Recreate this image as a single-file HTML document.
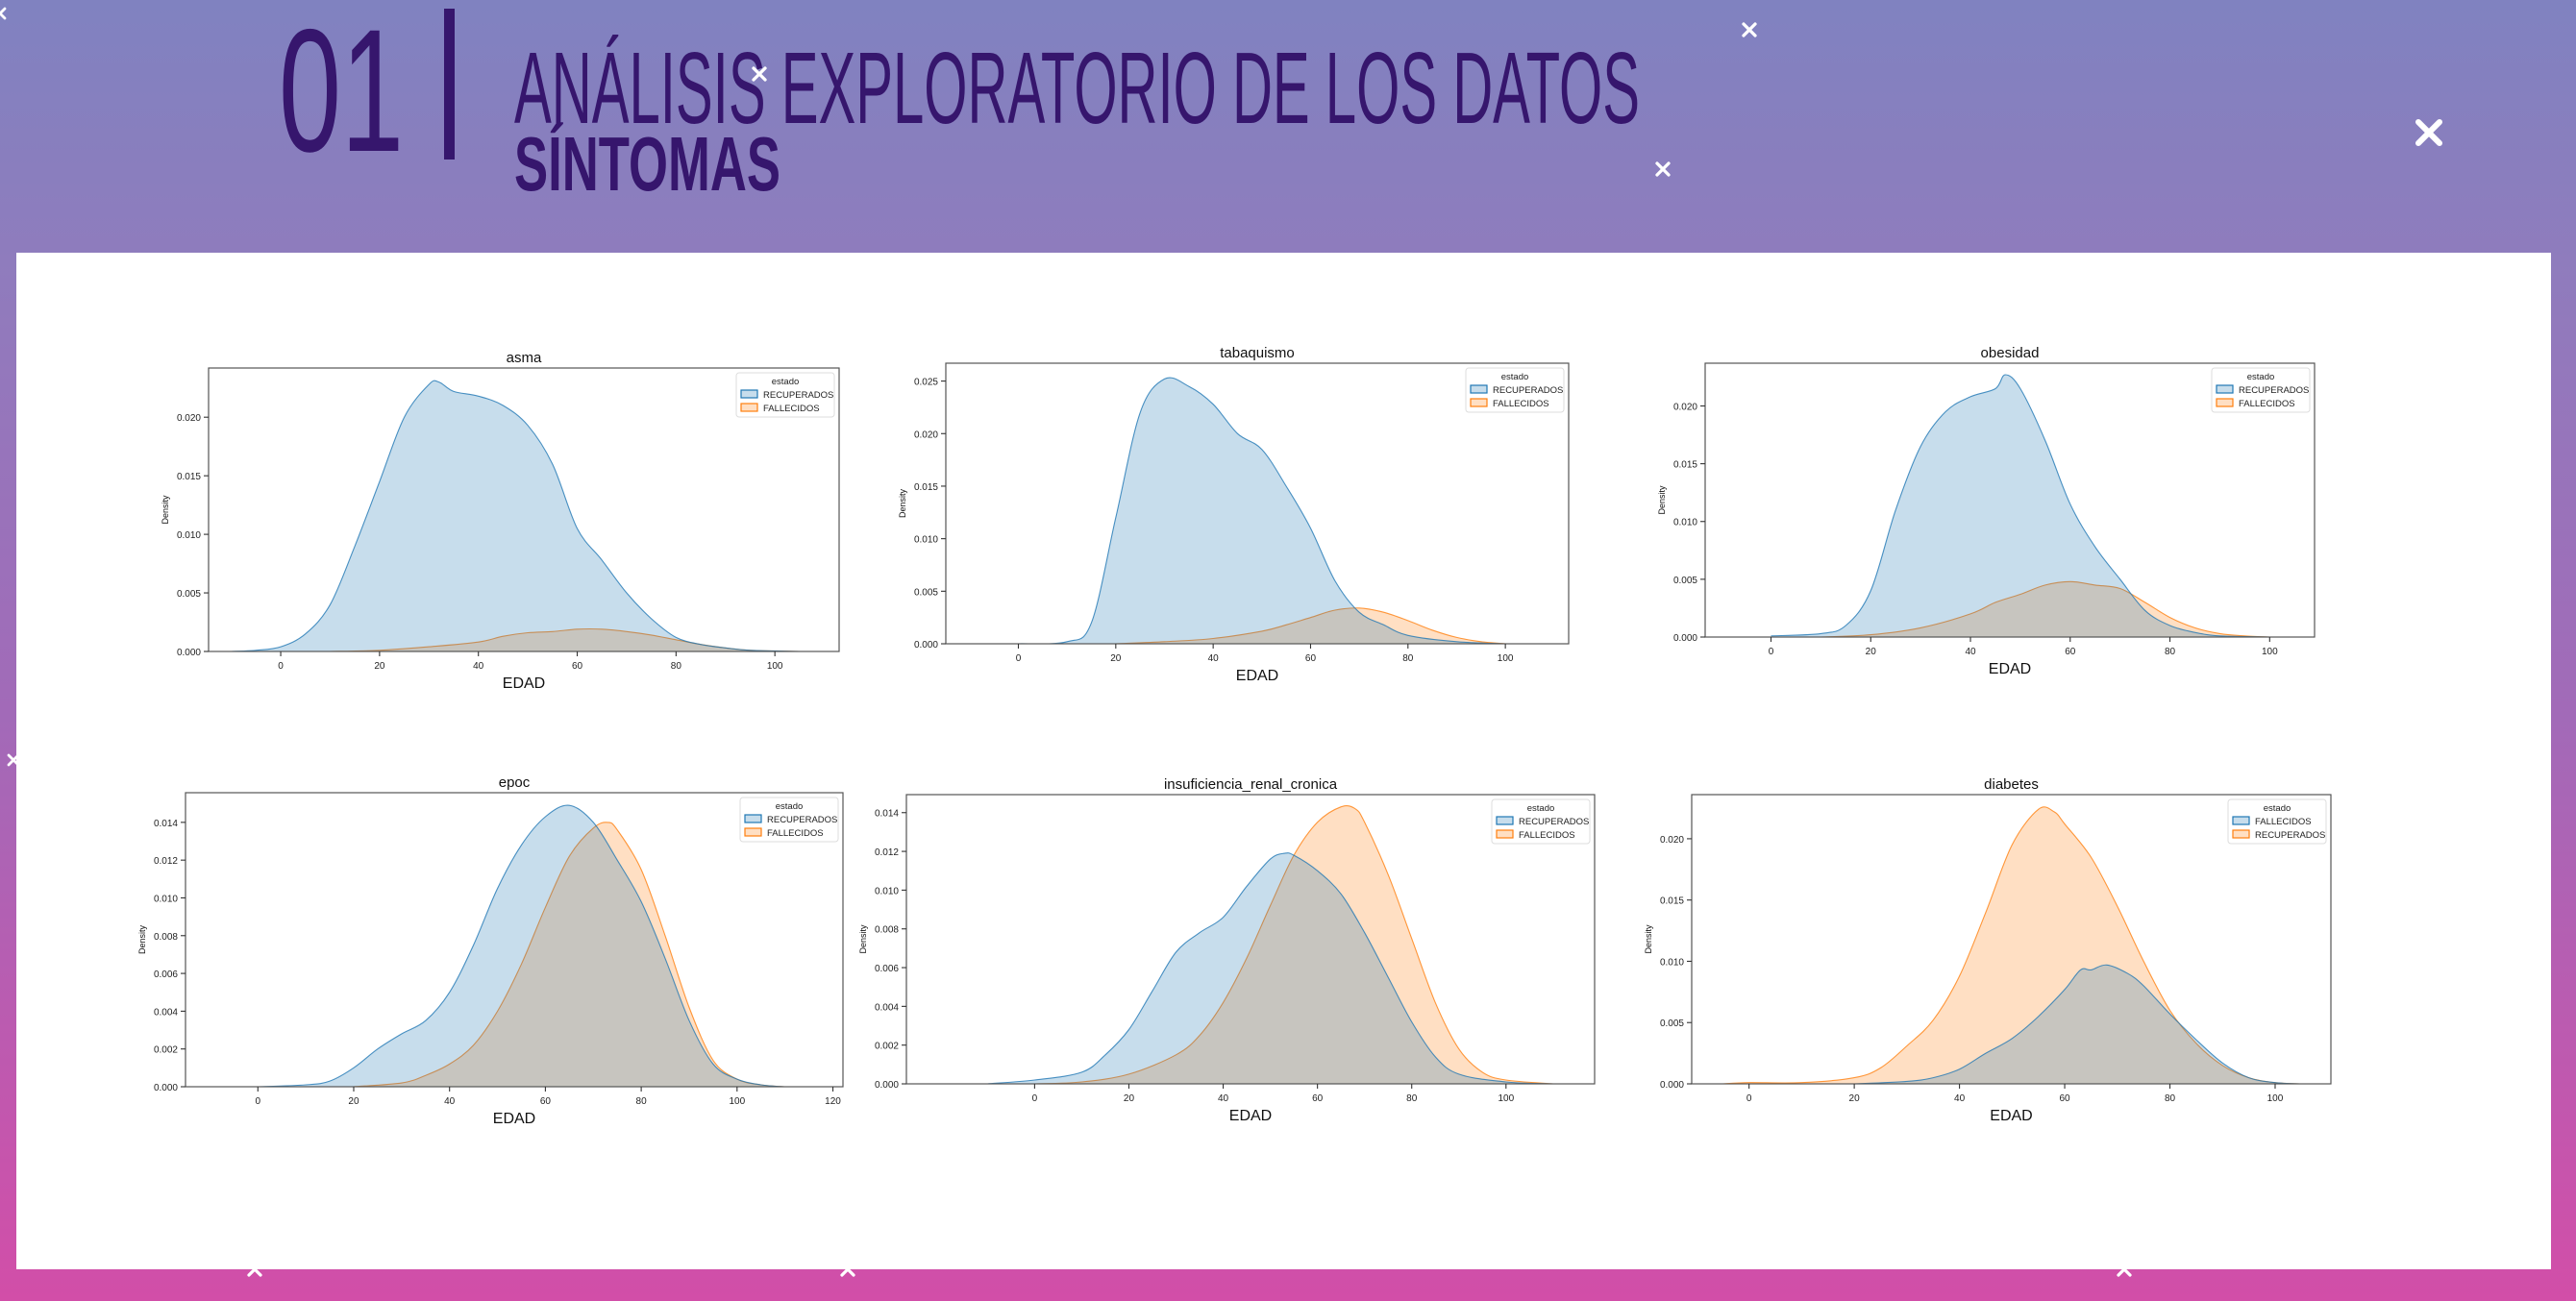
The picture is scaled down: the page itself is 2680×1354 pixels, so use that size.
<!DOCTYPE html>
<html><head><meta charset="utf-8">
<style>
html,body{margin:0;padding:0;width:2680px;height:1354px;overflow:hidden}
body{background:linear-gradient(180deg,#8082c0 0%,#8f7cbd 20%,#a26ab8 55%,#c257ae 85%,#d24ea8 100%);font-family:"Liberation Sans",sans-serif}
svg{position:absolute;left:0;top:0}
</style></head>
<body>
<svg id="root" width="2680" height="1354">
  <g fill="#36166d">
    <text x="290" y="157" font-family="Liberation Sans Narrow, Liberation Sans, sans-serif" font-size="182" textLength="130" lengthAdjust="spacingAndGlyphs">01</text>
    <rect x="462" y="9" width="11" height="157"/>
    <text x="535" y="128" font-family="Liberation Sans Narrow, Liberation Sans, sans-serif" font-size="106" textLength="1171" lengthAdjust="spacingAndGlyphs">ANÁLISIS EXPLORATORIO DE LOS DATOS</text>
    <text x="535" y="198" font-family="Liberation Sans Narrow, Liberation Sans, sans-serif" font-weight="bold" font-size="80" textLength="277" lengthAdjust="spacingAndGlyphs">SÍNTOMAS</text>
  </g>
  <g id="stars"></g>
  <rect x="17" y="263" width="2637" height="1058" fill="#ffffff"/>
  <g id="charts"></g>
</svg>
<script>
// ---- data (x = EDAD, y = density) ----
const asmaRecX=[-10,-5,0,5,10,15,20,25,30,32,35,40,45,50,55,60,65,70,75,80,85,90,95,100,105];
const asmaRecY=[0,0.0001,0.0004,0.0015,0.004,0.009,0.0145,0.020,0.0228,0.0230,0.0222,0.0218,0.0210,0.0193,0.0160,0.0105,0.0078,0.005,0.0028,0.0012,0.0006,0.0003,0.0001,0.00005,0];
const asmaFalX=[10,20,30,40,45,50,55,60,65,70,75,80,85,90,95,105];
const asmaFalY=[0,0.0001,0.0004,0.0008,0.0013,0.0016,0.0017,0.0019,0.0019,0.0017,0.0014,0.001,0.0006,0.0003,0.0001,0];

const tabRecX=[0,10,15,20,25,30,35,40,45,50,55,60,65,70,75,80,90,100];
const tabRecY=[0,0.0002,0.002,0.012,0.022,0.0252,0.0245,0.0228,0.020,0.0185,0.015,0.011,0.006,0.003,0.0018,0.0008,0.0002,0];
const tabFalX=[20,30,40,50,55,60,65,70,75,80,85,90,95,100];
const tabFalY=[0,0.0002,0.0005,0.0012,0.0018,0.0025,0.0032,0.0034,0.0030,0.0022,0.0013,0.0006,0.0002,0];

const obeRecX=[0,10,15,20,25,30,35,40,45,47,50,55,60,65,70,75,80,85,90,100];
const obeRecY=[0.0001,0.0003,0.001,0.004,0.011,0.0165,0.0195,0.0208,0.0215,0.0227,0.0215,0.017,0.0115,0.0078,0.005,0.0023,0.001,0.0004,0.0001,0];
const obeFalX=[10,20,30,40,45,50,55,60,65,70,75,80,85,90,95,100];
const obeFalY=[0,0.0002,0.0008,0.002,0.003,0.0037,0.0045,0.0048,0.0045,0.0042,0.003,0.0017,0.0008,0.0003,0.0001,0];

const epocRecX=[0,10,15,20,25,30,35,40,45,50,55,60,65,70,75,80,85,90,95,100,105,110];
const epocRecY=[0,0.0001,0.0003,0.001,0.002,0.0028,0.0035,0.005,0.0075,0.0105,0.0128,0.0143,0.0149,0.0140,0.0120,0.0098,0.0068,0.0035,0.0012,0.0004,0.0001,0];
const epocFalX=[20,30,35,40,45,50,55,60,65,70,73,75,80,85,90,95,100,105,110];
const epocFalY=[0,0.0002,0.0006,0.0012,0.0022,0.004,0.0065,0.0095,0.0122,0.0137,0.0140,0.0136,0.0115,0.0080,0.0042,0.0014,0.0004,0.0001,0];

const renRecX=[-10,0,10,15,20,25,30,35,40,45,50,53,55,60,65,70,75,80,85,90,100,110];
const renRecY=[0,0.0002,0.0006,0.0015,0.0028,0.0048,0.0068,0.0078,0.0086,0.0102,0.0116,0.0119,0.0118,0.011,0.0098,0.0078,0.0055,0.0032,0.0014,0.0005,0.0001,0];
const renFalX=[0,10,20,30,35,40,45,50,55,60,65,68,70,75,80,85,90,95,100,110];
const renFalY=[0,0.0001,0.0005,0.0015,0.0025,0.0042,0.0065,0.0092,0.0118,0.0135,0.0143,0.0142,0.0135,0.0108,0.0075,0.0042,0.0018,0.0006,0.0002,0];

const diaRecX=[-5,0,10,20,25,30,35,40,45,50,55,58,60,65,70,75,80,85,90,95,100,105];
const diaRecY=[0,0.0001,0.0001,0.0005,0.0013,0.0031,0.0052,0.0088,0.0140,0.0195,0.0224,0.0222,0.0212,0.0185,0.0145,0.0100,0.0060,0.0033,0.0015,0.0005,0.0001,0];
const diaFalX=[20,30,35,40,45,50,55,60,63,65,68,72,75,80,85,90,95,100,105];
const diaFalY=[0,0.0002,0.0005,0.0012,0.0025,0.0037,0.0055,0.0077,0.0093,0.0093,0.0097,0.0090,0.0080,0.0057,0.0036,0.0017,0.0005,0.0001,0];

const yTicks1=[0,0.005,0.010,0.015,0.020];
const yTicks2=[0,0.005,0.010,0.015,0.020,0.025];
const yTicks3=[0,0.002,0.004,0.006,0.008,0.010,0.012,0.014];
const xTicks100=[0,20,40,60,80,100];
const xTicks120=[0,20,40,60,80,100,120];

const charts=[
 {name:'asma',box:[217,383,873,678],xd:[-14.6,113],yd:[0,0.0242],yt:yTicks1,yf:3,xt:xTicks100,
  series:[{label:'RECUPERADOS',c:'#1f77b4',x:asmaRecX,y:asmaRecY},{label:'FALLECIDOS',c:'#ff7f0e',x:asmaFalX,y:asmaFalY}]},
 {name:'tabaquismo',box:[984,378,1632,670],xd:[-14.9,113],yd:[0,0.0267],yt:yTicks2,yf:3,xt:xTicks100,
  series:[{label:'RECUPERADOS',c:'#1f77b4',x:tabRecX,y:tabRecY},{label:'FALLECIDOS',c:'#ff7f0e',x:tabFalX,y:tabFalY}]},
 {name:'obesidad',box:[1774,378,2408,663],xd:[-13.2,109],yd:[0,0.0237],yt:yTicks1,yf:3,xt:xTicks100,
  series:[{label:'RECUPERADOS',c:'#1f77b4',x:obeRecX,y:obeRecY},{label:'FALLECIDOS',c:'#ff7f0e',x:obeFalX,y:obeFalY}]},
 {name:'epoc',box:[193,825,877,1131],xd:[-15.1,122.1],yd:[0,0.01557],yt:yTicks3,yf:3,xt:xTicks120,
  series:[{label:'RECUPERADOS',c:'#1f77b4',x:epocRecX,y:epocRecY},{label:'FALLECIDOS',c:'#ff7f0e',x:epocFalX,y:epocFalY}]},
 {name:'insuficiencia_renal_cronica',box:[943,827,1659,1128],xd:[-27.2,118.8],yd:[0,0.01493],yt:yTicks3,yf:3,xt:xTicks100,
  series:[{label:'RECUPERADOS',c:'#1f77b4',x:renRecX,y:renRecY},{label:'FALLECIDOS',c:'#ff7f0e',x:renFalX,y:renFalY}]},
 {name:'diabetes',box:[1760,827,2425,1128],xd:[-10.9,110.6],yd:[0,0.0236],yt:yTicks1,yf:3,xt:xTicks100,
  series:[{label:'FALLECIDOS',c:'#1f77b4',x:diaFalX,y:diaFalY},{label:'RECUPERADOS',c:'#ff7f0e',x:diaRecX,y:diaRecY}]}
];

const NS='http://www.w3.org/2000/svg';
function mk(tag,attrs,parent){const e=document.createElementNS(NS,tag);for(const k in attrs)e.setAttribute(k,attrs[k]);if(parent)parent.appendChild(e);return e;}
function smooth(pts){
  let d='M'+pts[0][0].toFixed(1)+','+pts[0][1].toFixed(1);
  for(let i=0;i<pts.length-1;i++){
    const p0=pts[i-1]||pts[i],p1=pts[i],p2=pts[i+1],p3=pts[i+2]||p2;
    const c1=[p1[0]+(p2[0]-p0[0])/6,p1[1]+(p2[1]-p0[1])/6];
    const c2=[p2[0]-(p3[0]-p1[0])/6,p2[1]-(p3[1]-p1[1])/6];
    d+='C'+c1[0].toFixed(1)+','+c1[1].toFixed(1)+' '+c2[0].toFixed(1)+','+c2[1].toFixed(1)+' '+p2[0].toFixed(1)+','+p2[1].toFixed(1);
  }
  return d;
}
const root=document.getElementById('charts');
charts.forEach(ch=>{
  const [L,T,R,B]=ch.box;
  const sx=v=>L+(v-ch.xd[0])/(ch.xd[1]-ch.xd[0])*(R-L);
  const sy=v=>B-(v-ch.yd[0])/(ch.yd[1]-ch.yd[0])*(B-T);
  const g=mk('g',{},root);
  
  
  const clipId='clip-'+ch.name;
  const cp=mk('clipPath',{id:clipId},g);mk('rect',{x:L,y:T,width:R-L,height:B-T},cp);
  const plot=mk('g',{'clip-path':'url(#'+clipId+')'},g);
  // draw orange first, blue on top (gives grey overlap like reference)
  const order=ch.series.slice().sort((a,b)=>(a.c==='#ff7f0e'?0:1)-(b.c==='#ff7f0e'?0:1));
  order.forEach(s=>{
    const pts=s.x.map((xv,i)=>[sx(xv),sy(s.y[i])]);
    const line=smooth(pts);
    const area=mk('path',{d:line+'L'+pts[pts.length-1][0].toFixed(1)+','+B+'L'+pts[0][0].toFixed(1)+','+B+'Z',fill:s.c,'fill-opacity':0.25,stroke:'none'},plot);
    
    
    const ln=mk('path',{d:line,fill:'none',stroke:s.c,'stroke-width':1.1,'stroke-opacity':0.8},plot);
    
    
  });
  const frame=mk('rect',{x:L,y:T,width:R-L,height:B-T,fill:'none',stroke:'#555','stroke-width':1.2},g);
  
  
  ch.xt.forEach(t=>{
    mk('line',{x1:sx(t),x2:sx(t),y1:B,y2:B+5,stroke:'#333','stroke-width':1.1},g);
    const tx=mk('text',{x:sx(t),y:B+18,'font-size':10,'text-anchor':'middle',fill:'#222'},g);
    tx.textContent=t;
    
    
  });
  ch.yt.forEach(t=>{
    mk('line',{x1:L-5,x2:L,y1:sy(t),y2:sy(t),stroke:'#333','stroke-width':1.1},g);
    const tx=mk('text',{x:L-8,y:sy(t)+4,'font-size':10,'text-anchor':'end',fill:'#222'},g);
    tx.textContent=t.toFixed(ch.yf);
    
    
  });
  const title=mk('text',{x:(L+R)/2,y:T-6,'font-size':15,'text-anchor':'middle',fill:'#111'},g);
  title.textContent=ch.name;
  
  
  const xl=mk('text',{x:(L+R)/2,y:B+38,'font-size':16,'text-anchor':'middle',fill:'#111'},g);
  xl.textContent='EDAD';
  
  
  const yx=L-42,yy=(T+B)/2;
  const yl=mk('text',{x:yx,y:yy,'font-size':9,'text-anchor':'middle',fill:'#111',transform:'rotate(-90 '+yx+' '+yy+')'},g);
  yl.textContent='Density';
  
  
  // legend
  const lw=102,lh=46,lx=R-lw-5,ly=T+5;
  const lg=mk('g',{},g);
  
  
  mk('rect',{x:lx,y:ly,width:lw,height:lh,rx:3,fill:'#fff','fill-opacity':0.85,stroke:'#ddd'},lg);
  const lt=mk('text',{x:lx+lw/2,y:ly+12,'font-size':9.5,'text-anchor':'middle',fill:'#222'},lg);
  lt.textContent='estado';
  
  
  ch.series.forEach((s,i)=>{
    const ey=ly+18+i*14;
    const e=mk('g',{},lg);
    
    
    mk('rect',{x:lx+5,y:ey,width:17,height:8,fill:s.c,'fill-opacity':0.25,stroke:s.c,'stroke-width':1.2},e);
    const t=mk('text',{x:lx+28,y:ey+8,'font-size':9.5,fill:'#222'},e);
    t.textContent=s.label;
  });
});
// decorative stars
const starPos=[[0,14,5],[1820,31,6],[2527,138,11],[1730,176,6],[790,77,6],[14,791,5],[265,1321,6],[882,1321,6],[2210,1321,6]];
const sg=document.getElementById('stars');
starPos.forEach(p=>{
  const s=mk('g',{stroke:'#fff','stroke-width':p[2]*0.55,'stroke-linecap':'round'},sg);
  
  
  mk('line',{x1:p[0]-p[2],y1:p[1]-p[2],x2:p[0]+p[2],y2:p[1]+p[2]},s);
  mk('line',{x1:p[0]-p[2],y1:p[1]+p[2],x2:p[0]+p[2],y2:p[1]-p[2]},s);
});
</script>
</body></html>
